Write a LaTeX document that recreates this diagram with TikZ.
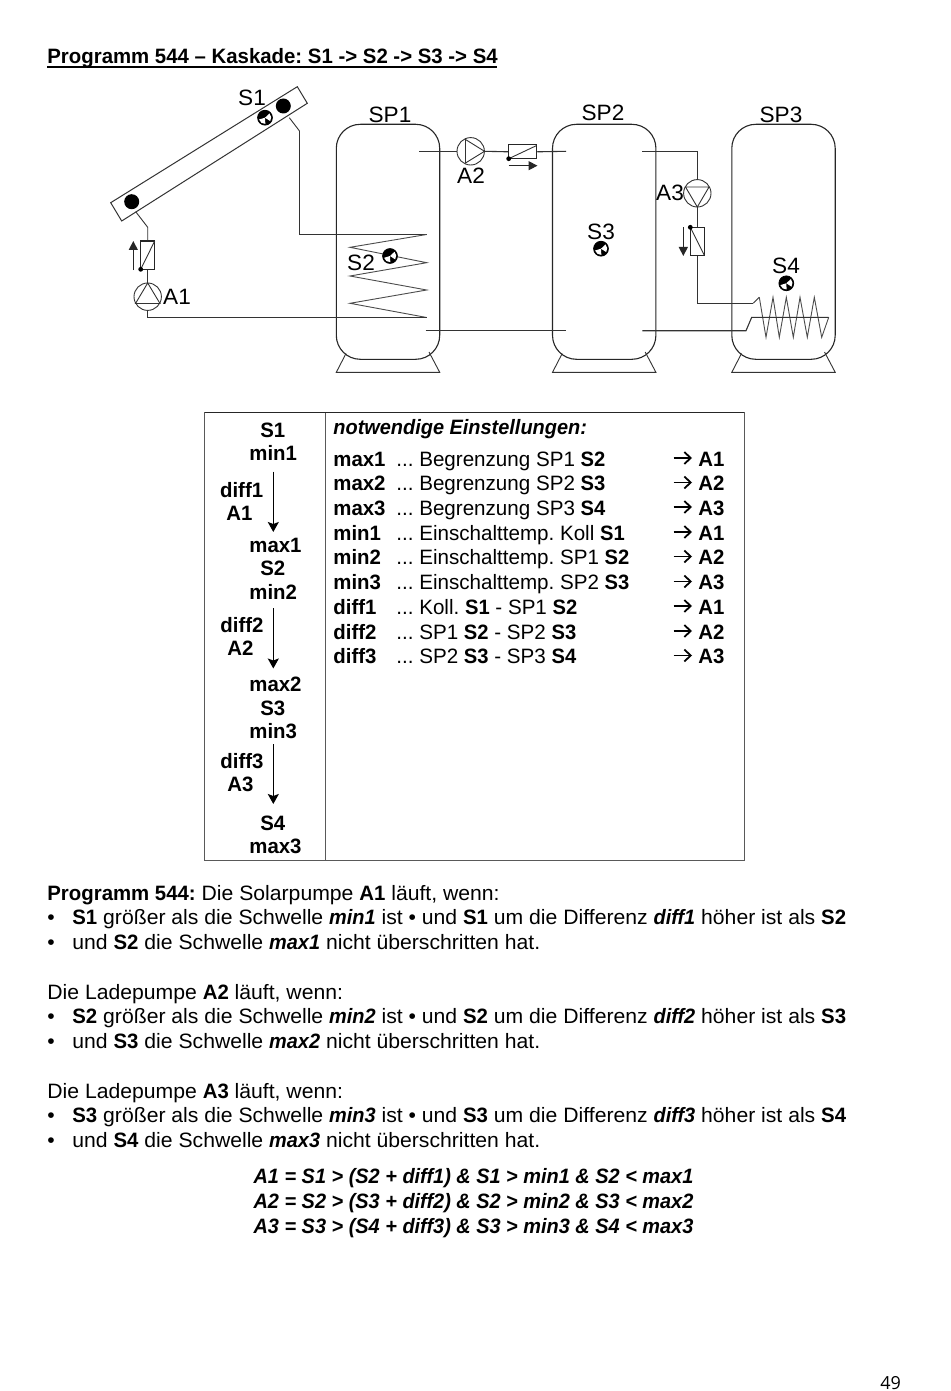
\documentclass[tikz,border=0pt]{standalone}
\usepackage{fontspec}
\setmainfont{Liberation Sans}[
  FakeStretch=1.018,
  BoldFeatures={FakeStretch=0.98},
  ItalicFeatures={FakeStretch=0.97},
  BoldItalicFeatures={FakeStretch=0.958}]
\newfontfamily\tabfont{Liberation Sans}[
  FakeStretch=0.99,
  BoldFeatures={FakeStretch=0.97}]
\newfontfamily\pagefont{Open Sans}
\newcommand{\bi}[1]{\textbf{\textit{#1}}}
\newcommand{\bb}[1]{\textbf{#1}}
\usetikzlibrary{arrows.meta}
\tikzset{
  x=0.5pt,y=-0.5pt,
  txt/.style={anchor=base west,inner sep=0pt,font=\frenchspacing\fontsize{10.4}{12}\selectfont,text=black},
  ctxt/.style={anchor=base,inner sep=0pt,font=\frenchspacing\fontsize{10.4}{12}\selectfont,text=black},
  lab/.style={anchor=center,inner sep=0pt,font=\fontsize{11.1}{13}\selectfont,text=black},
  pipe/.style={draw=black!80,line width=0.55pt},
  coil/.style={draw=black!70,line width=0.45pt},
  thin/.style={draw=black!80,line width=0.45pt},
  tank/.style={draw=black!85,line width=0.55pt,rounded corners=12pt,minimum width=51.7pt,minimum height=117.5pt,inner sep=0pt},
  foot/.style={draw=black!80,line width=0.45pt},
  pump/.style={circle,draw=black!80,fill=white,line width=0.45pt,minimum size=13.7pt,inner sep=0pt},
  valve/.style={rectangle,draw=black!85,fill=white,line width=0.55pt,inner sep=0pt},
  sdot/.style={circle,fill=black,minimum size=7.5pt,inner sep=0pt},
  senscirc/.style={circle,draw=black,fill=black,line width=0.4pt,minimum size=7.4pt,inner sep=0pt},
  flow/.style={draw=black!85,line width=0.55pt,-{Triangle[length=4.5pt,width=4.5pt]}},
  tabarrow/.style={draw=black,line width=0.75pt,-{Stealth[length=5pt,width=5.5pt,inset=1pt]}},
  tabline/.style={draw=black!65,line width=0.5pt},
  listarrow/.style={draw=black,line width=0.9pt,-{Straight Barb[length=3.2pt,width=6pt,line width=0.9pt]}}
}
\newcommand{\tl}[4]{\node[txt] (#1) at (#2,#3) {#4};}
\newcommand{\sensor}[3]{%
  \node[senscirc] (#1) at (#2,#3) {};
  \foreach \a in {5,235}{\fill[white] (#1.center) -- ++(\a-38:3.1pt) arc[start angle=\a-38,end angle=\a+38,radius=3.1pt] -- cycle;}
}
\begin{document}
\begin{tikzpicture}
\useasboundingbox[fill=white] (0,0) rectangle (950,1391);
% ---- title
\tl{title}{47}{63.5}{\textbf{Programm 544 – Kaskade: S1 -> S2 -> S3 -> S4}}
\draw[black,line width=0.55pt] (title.base west)++(0,3.5) -- ++(450,0);
% ---- tanks
\node[tank] (SP1) at (388,241.8) {};
\node[tank] (SP2) at (604.2,241.8) {};
\node[tank] (SP3) at (783.5,241.8) {};
\foreach \t/\x in {SP1/388,SP2/604.2,SP3/783.5}{
  \draw[foot] (\x-42,353.5) -- (\x-51.7,372.3) -- (\x+51.7,372.3) -- (\x+41,352);
}
% ---- collector
\draw[thin,line width=0.5pt] (110.7,202.7) -- (297.3,86.7) -- (307.3,103.3) -- (121.7,221) -- cycle;
\node[sdot] (c1) at (131.7,201.7) {};
\node[sdot] (c2) at (283.3,106) {};
\sensor{S1s}{265}{117.7}
% ---- circuit 1
\node[pump] (A1) at (147.7,296.7) {};
\draw[thin] (135.5,303.5) -- (147.7,283) -- (160,303.5) -- cycle;
\node[valve,minimum width=7pt,minimum height=14.15pt] (V1) at (147.7,255.2) {};
\coordinate (V1a) at (140.7,269.3); \coordinate (V1b) at (154.7,241);
\draw[thin] (V1a) -- (V1b);
\fill (V1a) circle (1.2pt);
\draw[flow] (133.3,270) -- (133.3,241);
\coordinate (P1a) at (135.7,211.7);
\coordinate (P1b) at (147.7,227.3);
\draw[thin] (P1a) -- (P1b) -- (V1.north);
\draw[pipe] (V1.south) -- (A1.north);
\coordinate (P2a) at (289.3,117.7);
\coordinate (P2b) at (299.5,131);
\coordinate (P2c) at (299.5,234.5);
\coordinate (C1) at (426.7,234.5);
\coordinate (C2) at (426.7,317.5);
\coordinate (P2d) at (147.7,317.5);
\draw[thin] (P2a) -- (P2b);
\draw[pipe] (P2b) -- (P2c) -- (C1);
\draw[coil] (C1) -- (350,247.3) -- (426.7,262.7) -- (350,276) -- (426.7,290) -- (350,303.3) -- (C2);
\draw[pipe] (C2) -- (P2d) -- (A1.south);
\sensor{S2s}{390}{256}
% ---- circuit 2
\node[pump] (A2) at (470.7,151.3) {};
\draw[thin] (465.5,139.5) -- (484.5,151.3) -- (465.5,163) -- cycle;
\node[valve,minimum width=14pt,minimum height=6.85pt] (V2) at (522.7,151.8) {};
\coordinate (V2a) at (508.7,158.7); \coordinate (V2b) at (536.7,145.5);
\draw[thin] (V2a) -- (V2b);
\fill (V2a) circle (1.2pt);
\draw[flow] (508.7,165.7) -- (537.5,165.7);
\coordinate (Q1) at (419,151.3);
\coordinate (Q2) at (566,151.3);
\coordinate (Q3) at (425.7,330.7);
\coordinate (Q4) at (566,330.7);
\draw[pipe] (Q1) -- (A2.west);
\draw[pipe] (A2.east) -- (V2.west);
\draw[pipe] (V2.east) -- (Q2);
\draw[pipe] (Q3) -- (Q4);
\sensor{S3s}{601}{248.7}
% ---- circuit 3
\node[pump] (A3) at (697.3,193.3) {};
\draw[thin] (685.5,187) -- (709,187) -- (697.3,207) -- cycle;
\node[valve,minimum width=7pt,minimum height=14pt] (V3) at (697.3,241.3) {};
\coordinate (V3a) at (690.3,227.3); \coordinate (V3b) at (704.3,255.3);
\draw[thin] (V3a) -- (V3b);
\fill (V3a) circle (1.2pt);
\draw[flow] (683.3,227.3) -- (683.3,256);
\coordinate (R1) at (642.3,151.3);
\coordinate (R2) at (697.3,151.3);
\coordinate (R3) at (697.3,303.3);
\coordinate (R4) at (753.3,303.3);
\draw[pipe] (R1) -- (R2) -- (A3.north);
\draw[pipe] (A3.south) -- (V3.north);
\draw[pipe] (V3.south) -- (R3);
\draw[thin] (R3) -- (R4);
\coordinate (K1) at (759.3,297.3);
\coordinate (K2) at (828.7,317.3);
\coordinate (K3) at (751.7,317.3);
\coordinate (K4) at (746,330.7);
\coordinate (K5) at (642.3,330.7);
\draw[thin] (R4) -- (K1);
\draw[coil] (K1) -- (766,337.3) -- (773,297.3) -- (779.3,337.3) -- (786.3,297.3) -- (793.3,337.3) -- (800,297.3) -- (807.3,337.3) -- (814.3,297.3) -- (821.7,337.3) -- (K2);
\draw[pipe] (K2) -- (K3) -- (K4) -- (K5);
\sensor{S4s}{786.3}{283.3}
% ---- schematic labels
\node[lab] (lS1) at (252,98) {S1};
\node[lab] (lSP1) at (390,115) {SP1};
\node[lab] (lA2) at (471,176) {A2};
\node[lab] (lA1) at (177,297) {A1};
\node[lab] (lS2) at (361,263) {S2};
\node[lab] (lSP2) at (603,113) {SP2};
\node[lab] (lS3) at (601,232) {S3};
\node[lab] (lA3) at (670,193) {A3};
\node[lab] (lSP3) at (781,115) {SP3};
\node[lab] (lS4) at (786,266) {S4};
% ---- table
\draw[tabline] (204.7,412.7) rectangle (744.3,860.7);
\draw[black!85,line width=0.6pt] (204.7,412.7) -- (744.3,412.7);
\draw[tabline] (325.3,412.7) -- (325.3,860.7);
% left column
\tl{a1}{260}{437}{\bb{S1}}
\tl{a2}{249}{460}{\bb{min1}}
\tl{a3}{219.7}{497}{\bb{diff1}}
\tl{a4}{226}{520}{\bb{A1}}
\tl{a5}{249}{552.5}{\bb{max1}}
\tl{a6}{260}{575.5}{\bb{S2}}
\tl{a7}{249}{599}{\bb{min2}}
\tl{a8}{220}{632.5}{\bb{diff2}}
\tl{a9}{227}{655.5}{\bb{A2}}
\tl{a10}{249}{691}{\bb{max2}}
\tl{a11}{260}{715}{\bb{S3}}
\tl{a12}{249}{738}{\bb{min3}}
\tl{a13}{220}{768}{\bb{diff3}}
\tl{a14}{227}{791}{\bb{A3}}
\tl{a15}{260}{830}{\bb{S4}}
\tl{a16}{249}{853.5}{\bb{max3}}
\coordinate (f1a) at (273.3,471.7); \coordinate (f1b) at (273.3,532);
\coordinate (f2a) at (273.3,608.3); \coordinate (f2b) at (273.3,668.5);
\coordinate (f3a) at (273.3,744); \coordinate (f3b) at (273.3,804);
\draw[tabarrow] (f1a) -- (f1b);
\draw[tabarrow] (f2a) -- (f2b);
\draw[tabarrow] (f3a) -- (f3b);
% right column
\tl{h}{333}{434}{\bi{notwendige Einstellungen:}}
\foreach \n/\y/\k/\d/\r in {
 1/466/max1/{... Begrenzung SP1 \bb{S2}}/A1,
 2/490.5/max2/{... Begrenzung SP2 \bb{S3}}/A2,
 3/515/max3/{... Begrenzung SP3 \bb{S4}}/A3,
 4/540/min1/{... Einschalttemp. Koll \bb{S1}}/A1,
 5/564.5/min2/{... Einschalttemp. SP1 \bb{S2}}/A2,
 6/589.5/min3/{... Einschalttemp. SP2 \bb{S3}}/A3,
 7/614/diff1/{... Koll. \bb{S1} - SP1 \bb{S2}}/A1,
 8/639/diff2/{... SP1 \bb{S2} - SP2 \bb{S3}}/A2,
 9/663.5/diff3/{... SP2 \bb{S3} - SP3 \bb{S4}}/A3}{
  \node[txt] (k\n) at (333,\y) {\bb{\k}};
  \node[txt] (d\n) at (396,\y) {\tabfont\d};
  \node[txt] (r\n) at (698,\y) {\bb{\r}};
  \coordinate (p\n) at (673.5,\y-8);
  \draw[listarrow] (p\n) -- ([xshift=-3pt,yshift=4pt]r\n.base west);
}
% body
\tl{b1}{47}{900}{\bb{Programm 544:} Die Solarpumpe \bb{A1} läuft, wenn:}
\tl{b2a}{47}{924.5}{•}
\tl{b2}{72}{924.5}{\bb{S1} größer als die Schwelle \bi{min1} ist • und \bb{S1} um die Differenz \bi{diff1} höher ist als \bb{S2}}
\tl{b3a}{47}{949}{•}
\tl{b3}{72}{949}{und \bb{S2} die Schwelle \bi{max1} nicht überschritten hat.}
\tl{b4}{47}{999}{Die Ladepumpe \bb{A2} läuft, wenn:}
\tl{b5a}{47}{1023.5}{•}
\tl{b5}{72}{1023.5}{\bb{S2} größer als die Schwelle \bi{min2} ist • und \bb{S2} um die Differenz \bi{diff2} höher ist als \bb{S3}}
\tl{b6a}{47}{1048}{•}
\tl{b6}{72}{1048}{und \bb{S3} die Schwelle \bi{max2} nicht überschritten hat.}
\tl{b7}{47}{1098}{Die Ladepumpe \bb{A3} läuft, wenn:}
\tl{b8a}{47}{1122.5}{•}
\tl{b8}{72}{1122.5}{\bb{S3} größer als die Schwelle \bi{min3} ist • und \bb{S3} um die Differenz \bi{diff3} höher ist als \bb{S4}}
\tl{b9a}{47}{1147}{•}
\tl{b9}{72}{1147}{und \bb{S4} die Schwelle \bi{max3} nicht überschritten hat.}
\node[ctxt] (e1) at (473.5,1183) {\bi{A1 = S1 > (S2 + diff1) \& S1 > min1 \& S2 < max1}};
\node[ctxt] (e2) at (473.5,1208) {\bi{A2 = S2 > (S3 + diff2) \& S2 > min2 \& S3 < max2}};
\node[ctxt] (e3) at (473.5,1233) {\bi{A3 = S3 > (S4 + diff3) \& S3 > min3 \& S4 < max3}};
\node[txt,font=\pagefont\fontsize{9}{11}\selectfont] (pg) at (880,1389) {49};
\end{tikzpicture}
\end{document}
